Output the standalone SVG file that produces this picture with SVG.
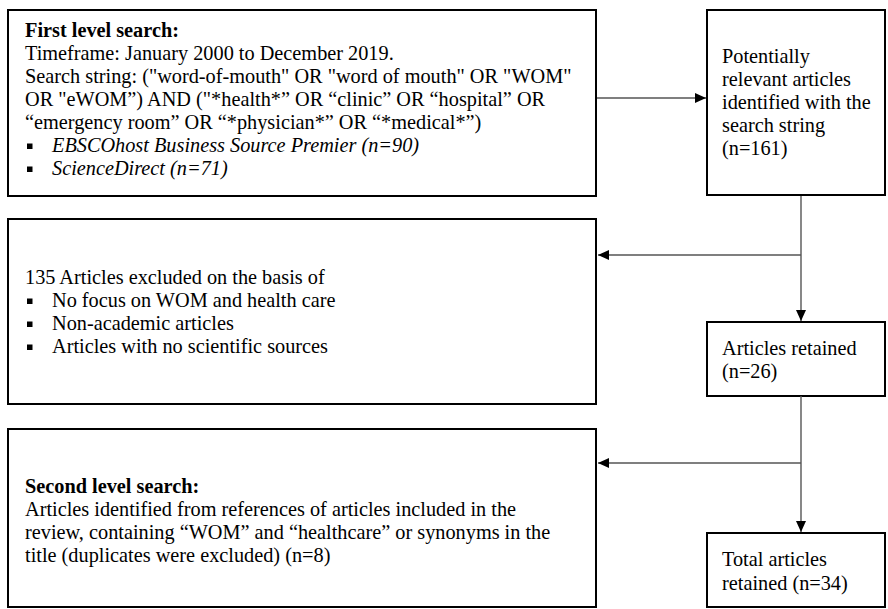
<svg xmlns="http://www.w3.org/2000/svg" width="888" height="609" viewBox="0 0 888 609">
<defs>
<marker id="ah" viewBox="0 0 11 10" refX="11" refY="5" markerWidth="11" markerHeight="10" markerUnits="userSpaceOnUse" orient="auto"><path d="M0,0 L11,5 L0,10 Z" fill="#000"/></marker>
<style>
.box{fill:#fff;stroke:#000;stroke-width:2}
.t{font-family:"Liberation Serif","Times New Roman",serif;font-size:20.3px;fill:#000}
.b{font-weight:bold}
.i{font-style:italic}
.c{fill:none;stroke:#555;stroke-width:1.4}
.bul{fill:#000}
</style>
</defs>
<rect width="888" height="609" fill="#fff"/>
<g id="first-level-search">
<rect class="box" x="8" y="10" width="588" height="186"/>
<text class="t" x="25" y="37"><tspan x="25" class="b">First level search:</tspan><tspan x="25" dy="23">Timeframe: January 2000 to December 2019.</tspan><tspan x="25" dy="23">Search string: ("word-of-mouth" OR "word of mouth" OR "WOM"</tspan><tspan x="25" dy="23">OR "eWOM”) AND ("*health*” OR “clinic” OR “hospital” OR</tspan><tspan x="25" dy="23">“emergency room” OR “*physician*” OR “*medical*”)</tspan></text>
<rect class="bul" x="27" y="143.5" width="5.5" height="5.5"/>
<text class="t i" x="52" y="152">EBSCOhost Business Source Premier (n=90)</text>
<rect class="bul" x="27" y="166.5" width="5.5" height="5.5"/>
<text class="t i" x="52" y="175">ScienceDirect (n=71)</text>
</g>
<g id="potentially-relevant">
<rect class="box" x="707" y="10" width="178" height="185"/>
<text class="t" x="722" y="63"><tspan x="722">Potentially</tspan><tspan x="722" dy="23">relevant articles</tspan><tspan x="722" dy="23">identified with the</tspan><tspan x="722" dy="23">search string</tspan><tspan x="722" dy="23">(n=161)</tspan></text>
</g>
<g id="excluded">
<rect class="box" x="8" y="219" width="588" height="185"/>
<text class="t" x="25" y="284">135 Articles excluded on the basis of</text>
<rect class="bul" x="27" y="298.5" width="5.5" height="5.5"/>
<text class="t" x="52" y="307">No focus on WOM and health care</text>
<rect class="bul" x="27" y="321.5" width="5.5" height="5.5"/>
<text class="t" x="52" y="330">Non-academic articles</text>
<rect class="bul" x="27" y="344.5" width="5.5" height="5.5"/>
<text class="t" x="52" y="353">Articles with no scientific sources</text>
</g>
<g id="articles-retained">
<rect class="box" x="707" y="322" width="178" height="74"/>
<text class="t" x="722" y="355"><tspan x="722">Articles retained</tspan><tspan x="722" dy="23">(n=26)</tspan></text>
</g>
<g id="second-level-search">
<rect class="box" x="8" y="429" width="588" height="178"/>
<text class="t" x="25" y="493"><tspan x="25" class="b">Second level search:</tspan><tspan x="25" dy="23">Articles identified from references of articles included in the</tspan><tspan x="25" dy="23">review, containing “WOM” and “healthcare” or synonyms in the</tspan><tspan x="25" dy="23">title (duplicates were excluded) (n=8)</tspan></text>
</g>
<g id="total-retained">
<rect class="box" x="707" y="533" width="178" height="74"/>
<text class="t" x="722" y="566"><tspan x="722">Total articles</tspan><tspan x="722" dy="23.5">retained (n=34)</tspan></text>
</g>
<g id="connectors">
<path class="c" d="M597,98 H706" marker-end="url(#ah)"/>
<path class="c" d="M801,196 V321" marker-end="url(#ah)"/>
<path class="c" d="M801,255 H598" marker-end="url(#ah)"/>
<path class="c" d="M801,396 V532" marker-end="url(#ah)"/>
<path class="c" d="M801,463 H598" marker-end="url(#ah)"/>
</g>
</svg>
